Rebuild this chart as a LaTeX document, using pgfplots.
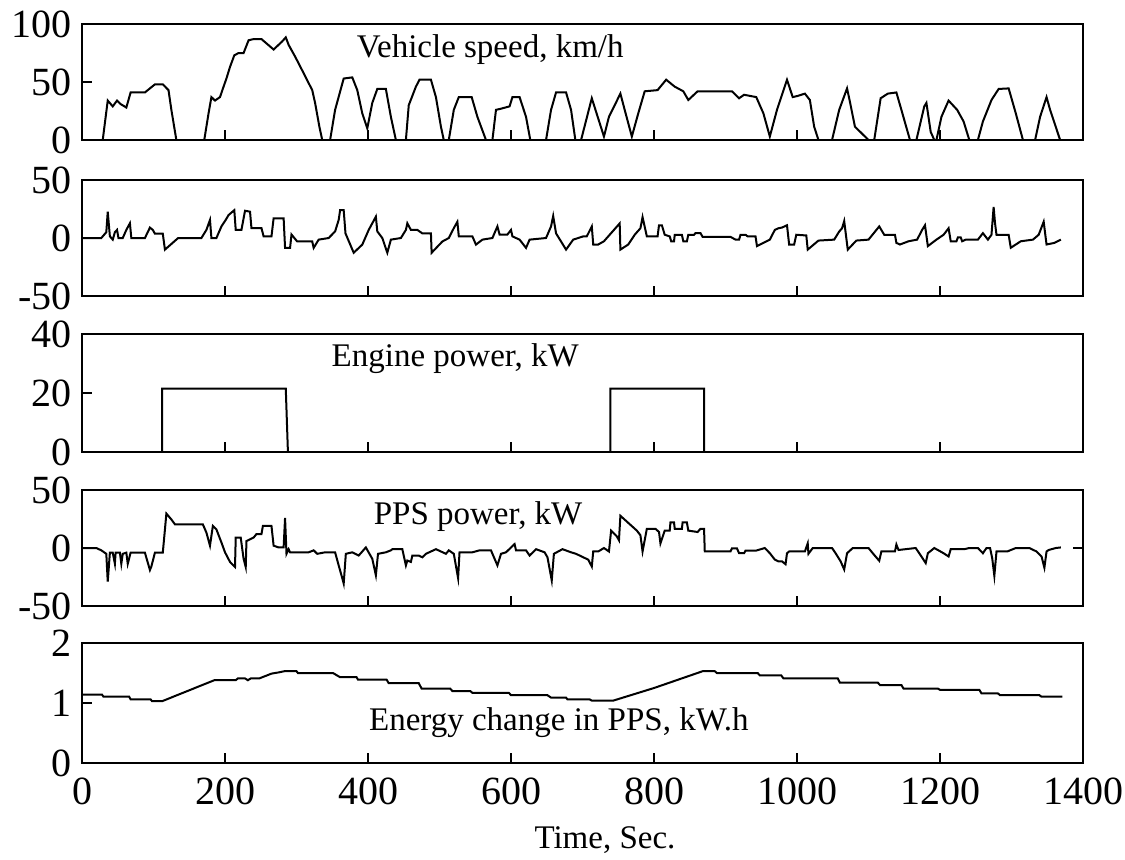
\documentclass[border=0pt]{standalone}
\usepackage{fontspec}
\setmainfont{Liberation Serif}
\usepackage{pgfplots}
\pgfplotsset{compat=1.18}
\pgfplotsset{
  panel/.style={
    scale only axis, width=500.5pt, height=58pt,
    xmin=0, xmax=1400,
    axis line style={line width=1.4pt},
    tick style={line width=1.1pt, black},
    major tick length=5pt,
    tick align=inside,
    xtick pos=bottom, ytick pos=left,
    xtick={200,400,600,800,1000,1200}, xticklabels={},
    /pgf/number format/assume math mode=true,
    ticklabel style={font=\fontsize{20}{23}\selectfont},
    yticklabel style={inner sep=0pt, xshift=-5pt},
    xticklabel style={inner sep=0pt, yshift=-7pt},
    cycle list={{black, mark=none, line width=1pt}},
    anchor=south west,
  }
}
\newcommand{\lab}{\fontsize{16.5}{19}\selectfont}
\begin{document}
\begin{tikzpicture}
\path[use as bounding box] (0,0) rectangle (562.5pt,-429.5pt);
% Panel 1: vehicle speed
\begin{axis}[panel, at={(41pt,-70pt)}, ymin=0, ymax=100, ytick={0,50,100}, yticklabels={0,50,100}]
\addplot[black, line width=1pt] coordinates {(0,0)(29,0)(36,34)(43,29)(49,34)(54,31)(62,28)(68,41)(88,41)(102,48)(113,48)(121,43)(125,26)(132,0)(171,0)(177,23)(181,37)(186,34)(193,37)(198,46)(202,53)(207,63)(213,73)(219,75)(226,75)(233,86)(240,87)(251,87)(268,78)(280,85)(285,88.5)(289,82)(298,72)(308,60)(322,43)(326,32)(332,11.5)(336,0)(347,0)(354,26)(366,53)(378,54)(385,43)(392,23)(399,10)(406,32)(413,44)(425,44)(432,20)(439,0)(453,0)(457,30)(467,46)(472,52)(488,52)(495,37)(502,11.5)(506,0)(513,0)(520,26)(527,37)(545,37)(553,20)(565,0)(574,0)(579,26)(586,27)(598,29)(602,37)(612,37)(621,20)(627,0)(649,0)(656,26)(663,41)(677,41)(684,26)(690,0)(698,0)(713,36)(730,3)(737,20)(753,40)(759,26)(769,3)(778,23)(787,42)(805,43)(817,52)(829,46)(841,42)(848,34.5)(861,42)(909,42)(919,36)(926,39)(943,37)(953,23)(962,3)(972,26)(986,52)(994,37)(1001,38)(1011,40)(1018,34.5)(1024,11.5)(1030,0)(1049,0)(1059,26)(1070,44.5)(1074,33)(1081,11.5)(1100,0)(1108,0)(1117,36)(1127,40)(1139,41)(1146,26)(1158,0)(1167,0)(1178,29)(1181,32)(1187,7)(1192,0)(1195,0)(1202,20)(1212,34)(1224,26)(1233,16)(1241,0)(1253,0)(1260,16)(1272,34.5)(1282,44)(1296,44.5)(1306,23)(1316,0)(1333,0)(1340,20)(1349,37)(1354,26)(1368,0)(1372,0)};
\node[font=\lab] at (axis cs:571,78) {Vehicle speed, km/h};
\end{axis}
% Panel 2: power demand
\begin{axis}[panel, at={(41pt,-148pt)}, ymin=-50, ymax=50, ytick={-50,0,50}, yticklabels={-50,0,50}]
\addplot[black, line width=1pt] coordinates {(0,0)(27,0)(34,5)(36,22.7)(39,1.4)(43,-1.4)(46,5)(49,7)(51,0)(57,0)(62,7)(67,12.7)(69,0)(88,0)(95,9)(99,7)(102,3.7)(113,3.7)(116,-10)(134.5,0)(167,0)(174,7)(179,15.6)(181,0)(188,0)(195,10)(201,15.6)(205,19.8)(213,24)(215,7)(223,7)(228,23.5)(235,22.7)(237,8.5)(251,8.5)(254,1.4)(265,1.4)(268,17)(282,17)(284,-8.5)(291,-8.5)(293,3)(301,-3)(322,-3)(324,-8.5)(331,-1.4)(345,0)(354,5.7)(359,15.6)(361,24)(366,24)(368.5,4)(380,-12.7)(392,-5.7)(401,7)(411,18.4)(413,5.7)(420,0)(427,-12.7)(432,-1.4)(446,0)(453,7)(455,12.7)(460,7)(469,7)(476,4)(488,4)(489,-12.7)(504,-3)(513,0)(520,8.5)(525,14)(527,1.4)(546,1.4)(551,-5.7)(560,-1.4)(574,0)(581,10)(584,3)(595,3)(600,7)(602,1.4)(612,-1.4)(621,-8.5)(626,-1.4)(649,0)(656,10)(659,19)(663,4)(677,-10)(687,-1.4)(701,1.4)(706,1.4)(713,10)(715,-5.6)(722,-5.6)(730,-2.8)(752,12.6)(753,-10)(764,-5.6)(773,2.8)(781,8.4)(784,18)(790,1.4)(805,1.4)(807,11)(811,11)(815,2.8)(822,1.4)(824,-2.8)(828,-2.8)(829,2.8)(839,2.8)(841,-2.8)(846,-2.8)(848,2.8)(856,2.8)(858,4.2)(865,4.2)(868,1)(907,1)(914,-1.4)(919,-1.4)(921,2.8)(928,2.8)(931,1.4)(942,1.4)(944,-7)(953,-4.2)(962,-1.4)(969,7)(974,8.4)(979,9)(986,11)(989,-5.6)(996,-5.6)(999,2.8)(1013,2.2)(1015,-10)(1030,-2.2)(1052,-1.4)(1059,5.6)(1063,8.4)(1066,14.6)(1071,-10)(1083,-2.2)(1100,-1.4)(1115,10)(1122,2.8)(1137,2.8)(1139,-4.2)(1144,-5.6)(1156,-2.8)(1168,-1.4)(1175,7)(1179,11)(1183,-7)(1195,-1.4)(1205,2.8)(1212,8.4)(1215,-2.8)(1223,-2.8)(1225,0.5)(1229,0.5)(1231,-2.8)(1236,-1.4)(1253,-1.4)(1260,4.2)(1267,-1.4)(1272,2.8)(1275,26.7)(1277,12.6)(1279,2.8)(1296,2.8)(1299,-8.4)(1313,-2.8)(1330,-1.4)(1338,2.8)(1345,14)(1349,-5.6)(1360,-4.2)(1369,-1.4)};
\end{axis}
% Panel 3: engine power
\begin{axis}[panel, at={(41pt,-226pt)}, height=59pt, ymin=0, ymax=40, ytick={0,20,40}, yticklabels={0,20,40}]
\addplot[black, line width=1pt] coordinates {(0,0)(112,0)(112,21.5)(285,21.5)(288,0)(739,0)(739,21.5)(870,21.5)(870,0)(1372,0)};
\node[font=\lab] at (axis cs:522,31.5) {Engine power, kW};
\end{axis}
% Panel 4: PPS power
\begin{axis}[panel, at={(41pt,-303pt)}, ymin=-50, ymax=50, ytick={-50,0,50}, yticklabels={-50,0,50}, ytick pos=both, yticklabel pos=left]
\addplot[black, line width=1pt] coordinates {(0,0)(20,0)(27,-2)(34,-5)(36,-29)(39,-4)(43,-4)(46,-13.6)(47,-4)(53,-4)(55,-13.6)(57,-5)(62,-4)(64,-13.6)(68,-4)(88,-4)(95,-19)(97,-16)(102,-4)(113,-4)(116,16)(118,29.7)(121,27.5)(125,24.6)(130,20.4)(169,20.4)(174,13.3)(179,2)(183,19)(188,16)(195,4.8)(200,-3.7)(207,-12)(214,-16.4)(215,9)(222,9)(226,-9.3)(229,-16.4)(230,6)(240,9)(244,12)(251,12)(253,19)(265,19)(268,2)(275,0.5)(282,0.5)(284,26)(286,-5)(289,-1)(291,-3.7)(317,-3.7)(324,-2)(329,-5)(340,-3.7)(354,-3.7)(359,-15)(364,-26)(366,-30.6)(369,-5)(378,-3.7)(387,-6.5)(397,0.5)(406,-9.3)(411,-23.5)(414,-5)(425,-3.7)(432,-2)(434,-1)(448,-1)(453,-15)(455,-10.8)(460,-12)(462,-6.5)(471,-6.5)(476,-8)(481,-5)(495,-1)(509,-5)(513,-2)(520,-5)(526,-26)(528,-3.7)(546,-3.7)(556,-2)(572,-2)(581,-15)(586,-5)(593,-3.7)(605,3.4)(607,-2)(621,-2)(626,-6.5)(635,-1)(647,-3.7)(651,-8)(657,-28)(660,-5)(672,-1)(684,-3.7)(691,-5)(701,-8)(708,-10)(713,-16)(715,-3)(722,-3)(730,0)(737,-3)(740,15)(748,10)(751,6.7)(753,27.8)(776,15)(781,11)(784,-3)(790,16.6)(802,16.6)(807,13.8)(809,4)(815,15)(822,15)(823,22)(828,22)(829,16.6)(839,16.6)(840,22)(846,22)(848,15)(861,13.8)(865,16.6)(870,16.6)(871,-3)(907,-3)(909,-0.3)(916,-0.3)(919,-4.5)(926,-4.5)(928,-2.2)(943,-2.2)(955,0)(962,-4.5)(969,-10)(974,-11.5)(979,-11.5)(984,-14)(986,-4.5)(989,-3)(1011,-3)(1015,4)(1016,-5)(1022,0)(1049,0)(1054,-4.5)(1061,-11.5)(1066,-18.5)(1070,-4.5)(1078,0)(1100,0)(1108,-6)(1115,-11)(1118,-3)(1137,-3)(1139,3)(1142,-1.7)(1166,0)(1174,-7.3)(1180,-13)(1183,-4.5)(1192,0)(1205,-4.5)(1212,-7.3)(1215,-1)(1234,-1)(1241,0)(1253,0)(1260,-4.5)(1265,0)(1270,0)(1273,-8.7)(1276,-24)(1279,-3)(1294,-3)(1306,0)(1325,0)(1335,-3)(1342,-7.3)(1346,-17)(1349,-3)(1352,-1.7)(1362,0)(1369,0.5)};
\node[font=\lab] at (axis cs:554,27) {PPS power, kW};
\end{axis}
% Panel 5: energy change
\begin{axis}[panel, at={(41pt,-381.5pt)}, height=60pt, ymin=0, ymax=2, ytick={0,1,2}, yticklabels={0,1,2},
  xtick={0,200,400,600,800,1000,1200,1400}, xticklabels={0,200,400,600,800,1000,1200,1400}]
\addplot[black, line width=1pt] coordinates {(0,1.14)(28,1.14)(30,1.105)(66,1.105)(68,1.06)(96,1.06)(98,1.03)(112,1.03)(185,1.38)(215,1.38)(218,1.41)(228,1.41)(232,1.38)(236,1.41)(248,1.41)(265,1.49)(275,1.51)(283,1.53)(300,1.53)(302,1.50)(351,1.50)(361,1.43)(384,1.43)(386,1.39)(426,1.39)(429,1.33)(471,1.33)(475,1.24)(515,1.24)(518,1.20)(543,1.20)(546,1.17)(597,1.17)(600,1.13)(651,1.13)(656,1.09)(677,1.09)(679,1.06)(710,1.06)(713,1.04)(743,1.04)(800,1.25)(868,1.53)(885,1.53)(888,1.50)(945,1.50)(948,1.46)(978,1.46)(981,1.41)(1057,1.41)(1060,1.34)(1113,1.34)(1116,1.30)(1146,1.30)(1149,1.24)(1197,1.24)(1200,1.22)(1255,1.22)(1258,1.16)(1281,1.16)(1284,1.13)(1339,1.13)(1342,1.105)(1371,1.105)};
\node[font=\lab] at (axis cs:667,0.68) {Energy change in PPS, kW.h};
\end{axis}
\node[font=\lab] at (302.5pt,-420pt) {Time, Sec.};
\end{tikzpicture}
\end{document}
